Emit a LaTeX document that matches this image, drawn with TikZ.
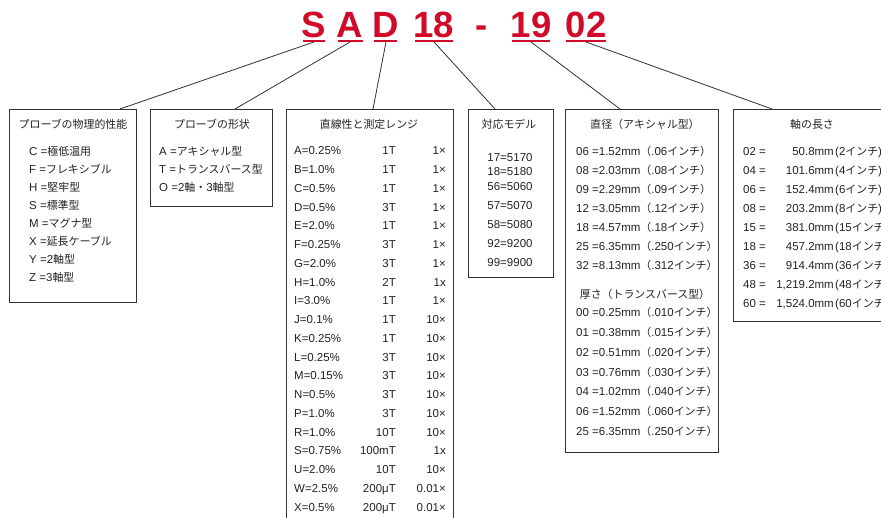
\documentclass[tikz,border=0pt]{standalone}
\usepackage{fontspec}
\setmainfont{Liberation Sans}
\newfontfamily\jp[Scale=0.95]{Noto Sans CJK JP}
\usetikzlibrary{calc}
\definecolor{tred}{RGB}{208,10,40}
\definecolor{lineg}{RGB}{50,50,50}
\definecolor{txtc}{RGB}{35,35,35}
\newcommand\jt[1]{{\jp #1}}
\begin{document}
\begin{tikzpicture}[x=1pt,y=-1pt,
  box/.style={draw=lineg, line width=1.3pt, inner sep=0pt, anchor=north west},
  ttl/.style={font=\fontsize{36.5}{40}\selectfont\bfseries, text=tred, anchor=base, inner sep=0pt},
  ul/.style={draw=tred, line width=2.2pt},
  conn/.style={draw=lineg, line width=0.8pt},
  txt/.style={font=\fontsize{11.5}{13}\selectfont, text=txtc, inner sep=0pt, anchor=base west},
  txte/.style={txt, anchor=base east},
  hd/.style={font=\fontsize{11.5}{13}\selectfont, text=txtc, inner sep=0pt, anchor=base},
]
\useasboundingbox[fill=white] (0,0) rectangle (881,518);

% title
\node[ttl] (tS) at (314,38) {S};
\node[ttl] (tA) at (350,38) {A};
\node[ttl] (tD) at (386,38) {D};
\node[ttl] (t18) at (434,38) {18};
\node[ttl] (tdash) at (482,38) {-};
\node[ttl] (t19) at (531,38) {19};
\node[ttl] (t02) at (586,38) {02};
\draw[ul] (303,41) -- (325,41);
\draw[ul] (338,41) -- (363,41);
\draw[ul] (374,41) -- (397,41);
\draw[ul] (415,41) -- (453,41);
\draw[ul] (512,41) -- (550,41);
\draw[ul] (566,41) -- (606,41);
\coordinate (uS) at (314,42);
\coordinate (uA) at (350,42);
\coordinate (uD) at (386,42);
\coordinate (u18) at (434,42);
\coordinate (u19) at (531,42);
\coordinate (u02) at (586,42);

% boxes
\node[box, minimum width=127pt, minimum height=193pt] (b1) at (9,109) {};
\node[box, minimum width=122pt, minimum height=97pt] (b2) at (150,109) {};
\node[box, minimum width=167pt, minimum height=431pt] (b3) at (286,109) {};
\node[box, minimum width=85pt, minimum height=168pt] (b4) at (468,109) {};
\node[box, minimum width=153pt, minimum height=343pt] (b5) at (565,109) {};
\node[box, minimum width=167pt, minimum height=212pt] (b6) at (733,109) {};

% connectors
\draw[conn] (uS) -- ($(b1.north west)+(111,0)$);
\draw[conn] (uA) -- ($(b2.north west)+(85,0)$);
\draw[conn] (uD) -- ($(b3.north west)+(87,0)$);
\draw[conn] (u18) -- ($(b4.north west)+(27,0)$);
\draw[conn] (u19) -- ($(b5.north west)+(55,0)$);
\draw[conn] (u02) -- ($(b6.north west)+(39,0)$);

% box 1
\node[hd] (h1) at (73,129) {\jt{プローブの物理的性能}};
\node[txt] (r1a) at (29,156) {C =\jt{極低温用}};
\node[txt] (r1b) at (29,174) {F =\jt{フレキシブル}};
\node[txt] (r1c) at (29,192) {H =\jt{堅牢型}};
\node[txt] (r1d) at (29,210) {S =\jt{標準型}};
\node[txt] (r1e) at (29,228) {M =\jt{マグナ型}};
\node[txt] (r1f) at (29,246) {X =\jt{延長ケーブル}};
\node[txt] (r1g) at (29,264) {Y =2\jt{軸型}};
\node[txt] (r1h) at (29,282) {Z =3\jt{軸型}};

% box 2
\node[hd] (h2) at (212,129) {\jt{プローブの形状}};
\node[txt] (r2a) at (159,156) {A =\jt{アキシャル型}};
\node[txt] (r2b) at (159,174) {T =\jt{トランスバース型}};
\node[txt] (r2c) at (159,192) {O =2\jt{軸・}3\jt{軸型}};

% box 3
\node[hd] (h3) at (369,129) {\jt{直線性と測定レンジ}};
\foreach \a/\b/\c [count=\i from 0] in {A=0.25\%/1T/1×, B=1.0\%/1T/1×, C=0.5\%/1T/1×, D=0.5\%/3T/1×, E=2.0\%/1T/1×, F=0.25\%/3T/1×, G=2.0\%/3T/1×, H=1.0\%/2T/1x, I=3.0\%/1T/1×, J=0.1\%/1T/10×, K=0.25\%/1T/10×, L=0.25\%/3T/10×, M=0.15\%/3T/10×, N=0.5\%/3T/10×, P=1.0\%/3T/10×, R=1.0\%/10T/10×, S=0.75\%/100mT/1x, U=2.0\%/10T/10×, W=2.5\%/200μT/0.01×, X=0.5\%/200μT/0.01×}{
  \pgfmathsetmacro\yy{155+18.74*\i}
  \node[txt] (r3a\i) at (294,\yy) {\a};
  \node[txte] (r3b\i) at (396,\yy) {\b};
  \node[txte] (r3c\i) at (446,\yy) {\c};
}

% box 4
\node[hd] (h4) at (509,129) {\jt{対応モデル}};
\foreach \t/\y [count=\i] in {17=5170/162, 18=5180/176, 56=5060/191, 57=5070/210, 58=5080/229, 92=9200/248, 99=9900/267}{
  \node[hd] (r4\i) at (510,\y) {\t};
}

% box 5
\node[hd] (h5a) at (645,129) {\jt{直径（アキシャル型）}};
\foreach \a/\b/\c [count=\i from 0] in {06/1.52/.06, 08/2.03/.08, 09/2.29/.09, 12/3.05/.12, 18/4.57/.18, 25/6.35/.250, 32/8.13/.312}{
  \pgfmathsetmacro\yy{156+19*\i}
  \node[txt] (r5a\i) at (576,\yy) {\a\ =\b mm\jt{（}\c\jt{インチ）}};
}
\node[hd] (h5b) at (645,299) {\jt{厚さ（トランスバース型）}};
\foreach \a/\b/\c [count=\i from 0] in {00/0.25/.010, 01/0.38/.015, 02/0.51/.020, 03/0.76/.030, 04/1.02/.040, 06/1.52/.060, 25/6.35/.250}{
  \pgfmathsetmacro\yy{317+19.7*\i}
  \node[txt] (r5b\i) at (576,\yy) {\a\ =\b mm\jt{（}\c\jt{インチ）}};
}

% box 6
\node[hd] (h6) at (812,129) {\jt{軸の長さ}};
\foreach \a/\b/\c [count=\i from 0] in {02/50.8/2, 04/101.6/4, 06/152.4/6, 08/203.2/8, 15/381.0/15, 18/457.2/18, 36/914.4/36, 48/{1,219.2}/48, 60/{1,524.0}/60}{
  \pgfmathsetmacro\yy{156+19*\i}
  \node[txt] (r6a\i) at (743,\yy) {\a\ =};
  \node[txte] (r6b\i) at (834,\yy) {\b mm};
  \node[txt] (r6c\i) at (835,\yy) {(\c\jt{インチ})};
}
\end{tikzpicture}
\end{document}
